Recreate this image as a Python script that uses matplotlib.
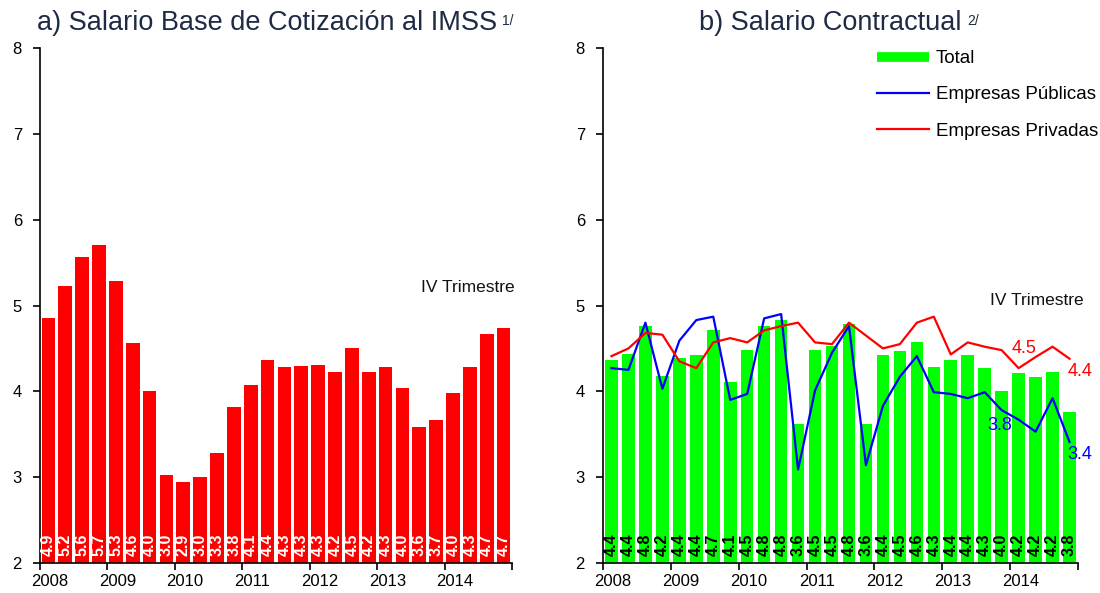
import matplotlib
matplotlib.use("Agg")
import matplotlib.pyplot as plt
import numpy as np
from matplotlib.lines import Line2D

plt.rcParams['font.family'] = ['Liberation Sans', 'DejaVu Sans']

years = ["2008", "2009", "2010", "2011", "2012", "2013", "2014"]

imss = [4.86, 5.23, 5.57, 5.70, 5.28, 4.56, 4.00, 3.02, 2.94, 3.00, 3.28, 3.82,
        4.07, 4.37, 4.28, 4.29, 4.31, 4.23, 4.51, 4.23, 4.28, 4.04, 3.58, 3.67,
        3.98, 4.28, 4.67, 4.74]

total = [4.37, 4.44, 4.76, 4.18, 4.39, 4.42, 4.72, 4.11, 4.48, 4.76, 4.83, 3.62,
         4.48, 4.53, 4.79, 3.62, 4.42, 4.47, 4.58, 4.28, 4.37, 4.42, 4.27, 4.00,
         4.21, 4.17, 4.23, 3.76]

publicas = [4.27, 4.25, 4.80, 4.03, 4.59, 4.83, 4.87, 3.90, 3.97, 4.85, 4.90, 3.09,
            4.01, 4.45, 4.76, 3.14, 3.83, 4.17, 4.41, 3.99, 3.97, 3.92, 3.99, 3.78,
            3.67, 3.53, 3.92, 3.41]

privadas = [4.41, 4.50, 4.68, 4.66, 4.35, 4.27, 4.57, 4.62, 4.57, 4.71, 4.76, 4.80,
            4.57, 4.55, 4.80, 4.65, 4.50, 4.55, 4.80, 4.87, 4.43, 4.57, 4.52, 4.48,
            4.27, 4.40, 4.52, 4.38]

fig = plt.figure(figsize=(11, 5.93), dpi=100)
axL = fig.add_axes([40/1100, 1-563/593, 472/1100, 515/593])
axR = fig.add_axes([603/1100, 1-563/593, 475/1100, 515/593])

x = np.arange(len(imss))
title_color = '#1F2A44'


def style(ax):
    ax.set_ylim(2, 8)
    ax.set_xlim(-0.5, len(imss) - 0.5)
    ax.set_yticks([2, 3, 4, 5, 6, 7, 8])
    ax.tick_params(axis='y', direction='out', length=5, width=1.2, labelsize=12, pad=8)
    ax.set_xticks(np.arange(-0.5, len(imss), 4))
    ax.set_xticklabels([])
    ax.tick_params(axis='x', which='major', direction='out', length=5, width=1.2)
    ax.set_xticks(np.arange(0, len(imss), 4) + 0.1, minor=True)
    ax.set_xticklabels(years, minor=True, fontsize=12)
    ax.tick_params(axis='x', which='minor', length=0, pad=8)
    for s in ['top', 'right']:
        ax.spines[s].set_visible(False)
    for s in ['left', 'bottom']:
        ax.spines[s].set_linewidth(1.2)


# Left panel
axL.bar(x, imss, width=0.82, color='#FF0000', zorder=2)
for xi, v in zip(x, imss):
    axL.text(xi, 2.08, f"{v:.1f}", rotation=90, ha='center', va='bottom',
             color='white', fontsize=11.5, fontweight='bold', zorder=3)
style(axL)
axL.text(24.9, 5.21, "IV Trimestre", ha='center', va='center', fontsize=12.5, color='#111111')

# Right panel
axR.bar(x, total, width=0.74, color='#00FF00', zorder=2, label='Total')
axR.plot(x, publicas, color='#0000FF', lw=1.6, zorder=4, label='Empresas Públicas')
axR.plot(x, privadas, color='#FF0000', lw=1.6, zorder=4, label='Empresas Privadas')
for xi, v in zip(x, total):
    axR.text(xi, 2.08, f"{v:.1f}", rotation=90, ha='center', va='bottom',
             color='black', fontsize=11.5, fontweight='bold', zorder=3)
style(axR)
axR.text(25.1, 5.06, "IV Trimestre", ha='center', va='center', fontsize=12.5, color='#111111')
axR.text(24.3, 4.50, "4.5", ha='center', va='center', fontsize=13, color='#FF0000', zorder=5)
axR.text(27.6, 4.23, "4.4", ha='center', va='center', fontsize=13, color='#FF0000',
         clip_on=False, zorder=5)
axR.text(22.9, 3.60, "3.8", ha='center', va='center', fontsize=13, color='#0000FF', zorder=5)
axR.text(27.6, 3.26, "3.4", ha='center', va='center', fontsize=13, color='#0000FF',
         clip_on=False, zorder=5)

handles = [Line2D([0], [0], color='#00FF00', lw=7, solid_capstyle='butt'),
           Line2D([0], [0], color='#0000FF', lw=1.6),
           Line2D([0], [0], color='#FF0000', lw=1.6)]
labels = ['Total', 'Empresas Públicas', 'Empresas Privadas']
axR.legend(handles, labels, loc='upper right', bbox_to_anchor=(1.078, 1.029), frameon=False,
           fontsize=13.5, handlelength=2.8, labelspacing=1.02, handletextpad=0.35)

# Titles with superscripts
renderer = fig.canvas.get_renderer()
tA = fig.text(0.2425, 0.962, "a) Salario Base de Cotización al IMSS", ha='center', va='center',
              fontsize=19.5, color=title_color)
tB = fig.text(0.755, 0.962, "b) Salario Contractual", ha='center', va='center',
              fontsize=19.5, color=title_color)
for t, sup in [(tA, "1/"), (tB, "2/")]:
    bb = t.get_window_extent(renderer=renderer)
    fig.text((bb.x1 + 5) / 1100, (bb.y1 - 4) / 593, sup, ha='left', va='top',
             fontsize=10, color=title_color)

fig.savefig("out.png", dpi=100)
